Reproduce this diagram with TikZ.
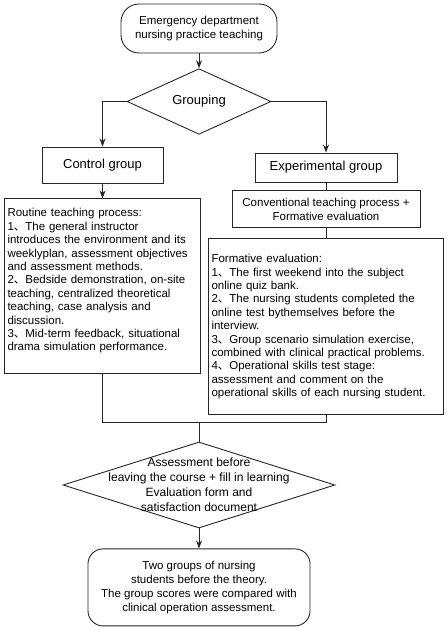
\documentclass[tikz,border=0pt]{standalone}
\usepackage{fontspec}
\setmainfont{Liberation Sans}
\newfontfamily\cjk{Noto Sans CJK SC}
\usetikzlibrary{positioning, shapes, arrows.meta}
\newcommand{\dun}{{\cjk 、}}

\begin{document}
\begin{tikzpicture}[x=1pt, y=-1pt,
    box/.style={draw=black!85, rectangle, line width=0.9pt, inner sep=2pt},
    txt/.style={font=\fontsize{11.5}{13.4}\selectfont},
    big/.style={font=\fontsize{13}{15}\selectfont},
    line/.style={draw=black!85, line width=0.9pt},
    arr/.style={line, -{Stealth[length=8pt,width=6pt]}}]

    \useasboundingbox (0,0) rectangle (447,631);

    \node[box, rounded corners=18pt, minimum width=156pt, minimum height=49pt, align=center, txt] (start) at (199,28.5) {Emergency department\\nursing practice teaching};
    \node[box, diamond, minimum width=144pt, minimum height=57pt, inner sep=0pt, big] (group) at (199,101.5) {Grouping};

    \node[box, minimum width=121pt, minimum height=36pt, big] (ctrl) at (102.5,165) {Control group};
    \node[box, minimum width=142pt, minimum height=29pt, big] (exp) at (326,167.5) {Experimental group};

    \node[box, minimum width=188pt, minimum height=37pt, align=center, txt] (conv) [below=8pt of exp] {Conventional teaching process +\\Formative evaluation};

    % text sits a little high in this box
    \node[box, text width=190pt, inner xsep=3pt, minimum height=175pt, align=left, txt] (routine) [below=15pt of ctrl] {Routine teaching process:\\
        1\dun The general instructor\\
        introduces the environment and its\\
        weeklyplan, assessment objectives\\
        and assessment methods.\\
        2\dun Bedside demonstration, on-site\\
        teaching, centralized theoretical\\
        teaching, case analysis and\\
        discussion.\\
        3\dun Mid-term feedback, situational\\
        drama simulation performance.\\
        \mbox{}};

    \node[box, text width=229pt, inner xsep=3pt, minimum height=176pt, align=left, txt] (form) [below=10pt of conv] {Formative evaluation:\\
        1\dun The first weekend into the subject\\
        online quiz bank.\\
        2\dun The nursing students completed the\\
        online test bythemselves before the\\
        interview.\\
        3\dun Group scenario simulation exercise,\\
        combined with clinical practical problems.\\
        4\dun Operational skills test stage:\\
        assessment and comment on the\\
        operational skills of each nursing student.};

    \coordinate (merge) at (199,422);

    \node[box, diamond, minimum width=272pt, minimum height=86pt, inner sep=0pt] (assess) at (199,485) {};
    \node[align=center, font=\fontsize{12}{15}\selectfont] (assesstext) at (assess.center) {Assessment before\\leaving the course + fill in learning\\Evaluation form and\\satisfaction document};

    \node[box, rounded corners=15pt, minimum width=222pt, minimum height=77pt, align=center, font=\fontsize{11.5}{14}\selectfont] (end) [below=20pt of assess] {Two groups of nursing\\students before the theory.\\The group scores were compared with\\clinical operation assessment.};

    \draw[arr] (start) -- (group);
    \draw[arr] (group.west) -| (ctrl.north);
    \draw[arr] (group.east) -| (exp.north);
    \draw[arr] (ctrl) -- (routine);
    \draw[line] (exp) -- (conv);
    \draw[line] (conv) -- (form);
    \draw[line] (routine.south) |- (merge);
    \draw[line] (form.south) |- (merge);
    \draw[line] (merge) -- (assess.north);
    \draw[arr] (assess) -- (end);
\end{tikzpicture}
\end{document}
